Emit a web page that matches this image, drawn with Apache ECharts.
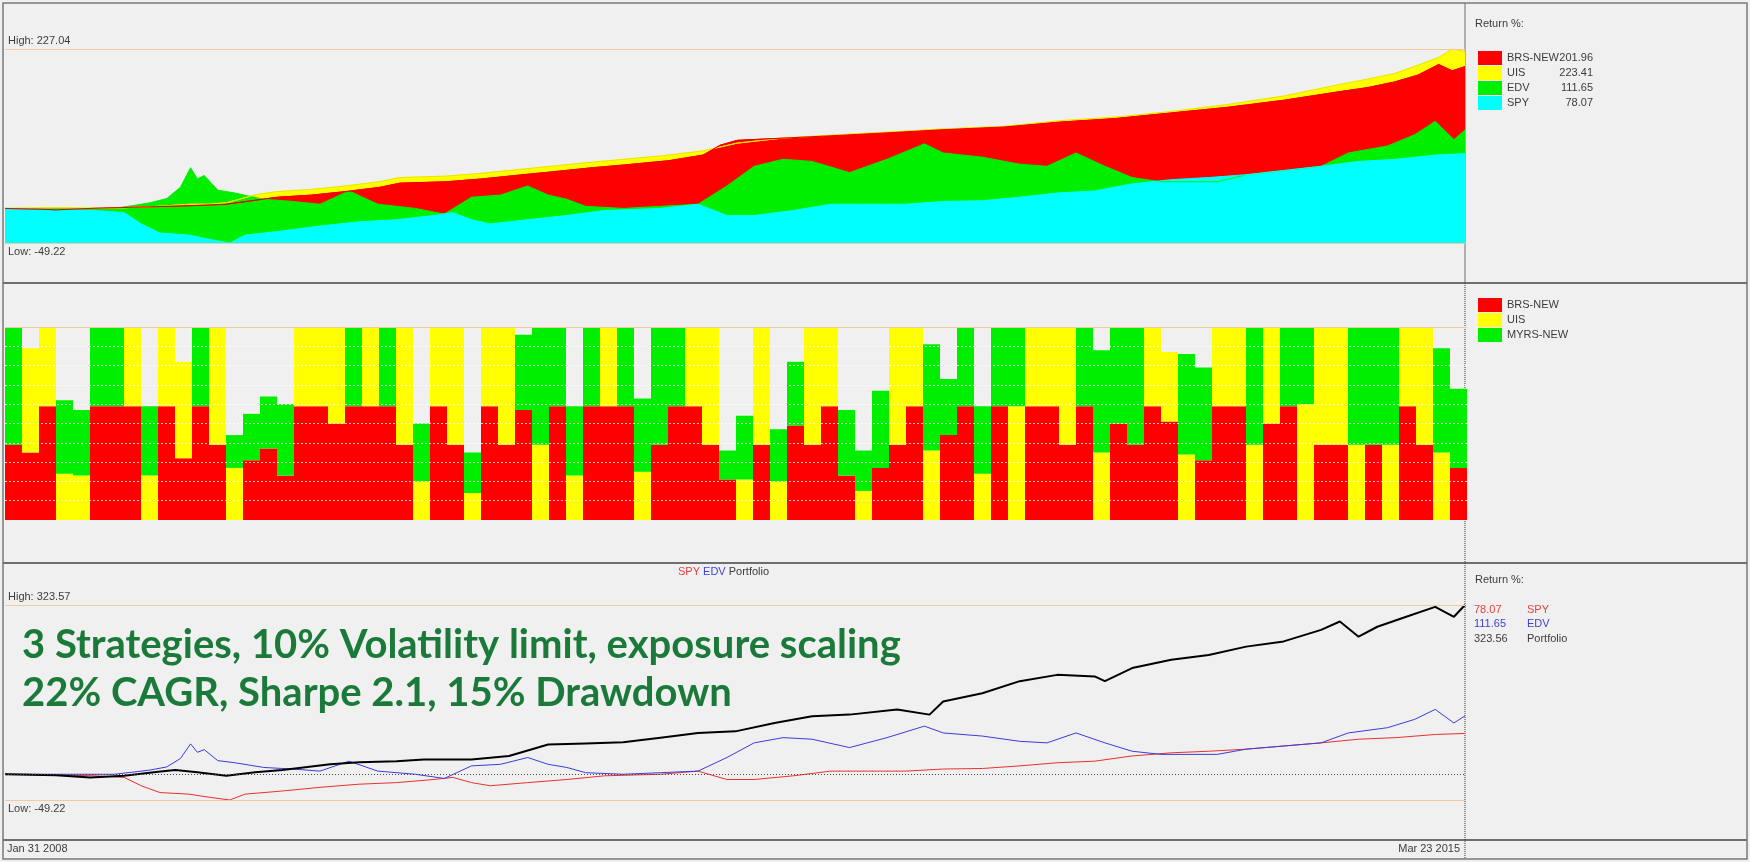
<!DOCTYPE html>
<html>
<head>
<meta charset="utf-8">
<script src="https://cdn.jsdelivr.net/npm/echarts@6/dist/echarts.min.js"></script>
<style>
html, body { margin: 0; padding: 0; background: #f0f0f0; }
#chart { width: 1750px; height: 862px; }
</style>
</head>
<body>
<div id="chart"></div>
<script>
// cumulative return %, [months since Jan 31 2008, value]
var spy = [[0,0],[2,-1],[4,-2],[5.3,-3],[7,-6],[8,-22],[9.1,-35],[10.8,-38],[12,-44],[13.2,-49.2],[14.1,-38],[16.3,-32],[18.5,-25],[20.8,-19],[23,-16],[25.2,-10],[26.3,-6],[27.4,-16],[28.5,-22],[30.7,-16],[33,-10],[35.2,-3],[38.5,0],[40.7,6],[42.4,-10],[44,-10],[46.3,-3],[48.5,6],[50.7,6],[52.9,6],[55.1,10],[57.4,11],[59.6,16],[61.8,22],[64,25],[66.2,35],[68.5,41],[70.7,44],[72.9,48],[75.1,54],[77.3,60],[79.5,67],[81.7,70],[84,76],[85.75,78.07]];
var edv = [[0,0],[3,0],[6.4,0],[7.5,4],[8.5,8],[9.5,14],[10.3,30],[10.9,58],[11.3,42],[11.7,47],[12.5,26],[13.5,22],[15.2,13],[16.9,10],[18.5,6],[20.2,25],[21.9,6],[24.1,0],[25.8,-8],[27.4,16],[29.1,19],[30.7,32],[31.9,19],[33,13],[34.1,3],[36.3,0],[38.5,3],[40.7,6],[42.4,32],[44,60],[45.7,70],[47.4,67],[49.6,51],[51.8,70],[54,92],[55.1,79],[57.4,73],[59.6,63],[61.2,60],[62.9,79],[64.6,60],[66.2,44],[67.9,38],[69.6,38],[71.2,38],[72.9,48],[75.1,54],[77.3,60],[78.9,79],[81.2,89],[82.8,105],[84,124],[85.1,98],[85.75,111.65]];
var uis = [[0,0],[3,1],[6,0],[9,3],[10.9,6],[12,6],[13,8],[14.8,20],[16,24],[18,27],[20,32],[22,38],[23.2,44],[25.9,46],[28,50],[30,55],[32.5,61],[34.5,66],[36.4,70],[39,76],[41,82],[43,93],[45.6,100],[49,105],[52.1,109],[55,113],[58.7,117],[62,125],[65.2,130],[68.5,138],[71.8,148],[75.1,160],[78.3,176],[80,184],[81.6,192],[83,204],[84.2,215],[85,227],[85.75,223.41]];
var brs = [[0,0],[2,-1],[3,-2],[5,0],[8,2],[11,4],[13,6],[14.8,12],[16,16],[18,19],[20,24],[22,30],[23.2,36],[25.9,38],[28,42],[30,47],[32.5,53],[34.5,58],[36.4,62],[39,68],[41,76],[42,90],[43,97],[45.6,100],[49,104],[52.1,108],[55,112],[58.7,116],[62,123],[65.2,128],[68.5,136],[71.8,144],[75.1,154],[78.3,166],[80,172],[81.6,180],[83,190],[84.2,205],[85,196],[85.75,201.96]];
var portfolio = [[0,0],[3,-2],[5,-6],[7,-3],[9,5],[10,8],[11.3,4],[13,-3],[14.7,4],[16.3,8],[19.1,19],[20.8,23],[23,25],[24.6,28],[27.4,28],[29.6,35],[31.9,57],[34.1,59],[36.3,61],[38.5,70],[40.7,79],[42.9,82],[45.2,98],[47.4,111],[49.6,114],[52.4,124],[54.3,114],[55.1,139],[57.4,155],[59.6,178],[61.8,190],[64,187],[64.6,178],[66.2,203],[68.5,219],[70.7,228],[72.9,244],[75.1,254],[77.3,276],[78.4,292],[79.5,263],[80.6,282],[82.3,301],[84,320],[85.1,301],[85.75,323.56]];

// monthly allocation %, Jan 2008 .. Feb 2015
var wBrs  = [39,35,59,0,0,59,59,59,0,59,32,59,39,0,31,37,23,59,59,50,59,59,59,39,0,59,39,0,59,39,57,0,59,0,59,59,59,0,39,59,59,39,21,0,39,0,49,39,59,23,0,27,39,59,0,44,59,0,59,0,59,59,39,59,0,50,39,59,51,0,31,59,59,0,50,59,0,39,39,0,39,0,59,39,0,27];
var wUis  = [0,54,41,24,23,0,0,41,23,41,50,0,61,27,0,0,0,41,41,50,0,41,0,61,20,41,61,14,41,61,0,39,0,23,0,41,0,25,0,0,41,61,0,21,61,20,0,61,41,0,15,0,61,41,36,0,0,24,0,59,41,41,61,0,35,0,0,41,36,34,0,41,41,39,50,0,60,61,61,39,0,39,41,61,35,0];
var wMyrs = [61,0,0,38,34,41,41,0,36,0,0,41,0,17,24,27,37,0,0,0,41,0,41,0,30,0,0,21,0,0,39,61,41,36,41,0,41,38,61,41,0,0,15,33,0,27,33,0,0,34,21,40,0,0,55,29,41,35,41,41,0,0,0,41,53,50,61,0,0,52,48,0,0,61,0,41,40,0,0,61,61,61,0,0,54,41];

var months = [];
for (var i = 0; i < wBrs.length; i++) {
    var y = 2008 + Math.floor(i / 12), m = i % 12 + 1;
    months.push(y + '-' + (m < 10 ? '0' + m : m));
}

var lastRet = {'BRS-NEW': '201.96', 'UIS': '223.41', 'EDV': '111.65', 'SPY': '78.07'};
var FONT = 'Liberation Sans';
var txt = '#3c3c3c';

var myChart = echarts.init(document.getElementById('chart'));

function areaSeries(name, data, color) {
    return {
        name: name, type: 'line', xAxisIndex: 0, yAxisIndex: 0,
        data: data, symbol: 'none', silent: true,
        lineStyle: {width: 1, color: color},
        itemStyle: {color: color},
        areaStyle: {color: color, opacity: 1, origin: 'start'}
    };
}

function barSeries(name, data, color) {
    return {
        name: name, type: 'bar', xAxisIndex: 1, yAxisIndex: 1, stack: 'w',
        data: data, barCategoryGap: '0%', silent: true,
        itemStyle: {color: color}
    };
}

function hiLo(hi, lo) {
    return {
        symbol: ['none', 'none'], silent: true, animation: false,
        lineStyle: {color: '#f2c9a2', type: 'solid', width: 1},
        label: {color: txt, fontSize: 11, fontFamily: FONT, distance: [3, 3]},
        data: [
            {yAxis: hi, label: {position: 'insideStartTop', formatter: 'High: ' + hi}},
            {yAxis: lo, label: {position: 'insideStartBottom', formatter: 'Low: ' + lo}}
        ]
    };
}

var spySer = areaSeries('SPY', spy, '#00ffff');
spySer.markLine = hiLo(227.04, -49.22);

var gridLines = [];
for (var g = 10; g < 100; g += 10) gridLines.push({yAxis: g});
gridLines.push({yAxis: 100, lineStyle: {color: '#f2c9a2', type: 'solid'}});

var greenBars = barSeries('MYRS-NEW', wMyrs, '#00ee00');
greenBars.markLine = {
    symbol: ['none', 'none'], silent: true, animation: false, label: {show: false},
    lineStyle: {color: 'rgba(255,255,255,0.75)', type: [2, 2], width: 1},
    data: gridLines
};

var portSer = {
    name: 'Portfolio', type: 'line', xAxisIndex: 2, yAxisIndex: 2, data: portfolio,
    symbol: 'none', silent: true, lineStyle: {width: 2, color: '#000'}, itemStyle: {color: '#000'},
    markLine: hiLo(323.57, -49.22)
};
portSer.markLine.data.push({yAxis: 0, label: {show: false}, lineStyle: {color: '#444', type: [1, 2], width: 1}});

function legendFmt(name) {
    return '{n|' + name + '}{v|' + lastRet[name] + '}';
}

var option = {
    backgroundColor: '#f0f0f0',
    animation: false,
    textStyle: {fontFamily: FONT},
    grid: [
        {left: 5, right: 285, top: 49, height: 194},
        {left: 5, right: 283, top: 327, height: 193},
        {left: 5, right: 285, top: 605, height: 195}
    ],
    xAxis: [
        {type: 'value', gridIndex: 0, min: 0, max: 85.75, show: false, splitLine: {show: false}},
        {type: 'category', gridIndex: 1, data: months, show: false, boundaryGap: true},
        {type: 'value', gridIndex: 2, min: 0, max: 85.75, show: false, splitLine: {show: false}}
    ],
    yAxis: [
        {type: 'value', gridIndex: 0, min: -49.22, max: 227.04, show: false, splitLine: {show: false}},
        {type: 'value', gridIndex: 1, min: 0, max: 100, show: false, splitLine: {show: false}},
        {type: 'value', gridIndex: 2, min: -49.22, max: 323.57, show: false, splitLine: {show: false}}
    ],
    legend: [
        {
            data: ['BRS-NEW', 'UIS', 'EDV', 'SPY'], orient: 'vertical', left: 1473, top: 46,
            icon: 'rect', itemWidth: 24, itemHeight: 14, itemGap: 1, selectedMode: false,
            formatter: legendFmt,
            textStyle: {color: txt, fontSize: 11, rich: {
                n: {width: 36, fontSize: 11, color: txt, fontFamily: FONT},
                v: {width: 50, align: 'right', fontSize: 11, color: txt, fontFamily: FONT}
            }}
        },
        {
            data: ['BRS-NEW', 'UIS', 'MYRS-NEW'], orient: 'vertical', left: 1473, top: 293,
            icon: 'rect', itemWidth: 24, itemHeight: 14, itemGap: 1, selectedMode: false,
            textStyle: {color: txt, fontSize: 11}
        }
    ],
    graphic: [
        // panel frames
        {type: 'rect', shape: {x: 3, y: 3, width: 1744, height: 856}, style: {fill: 'none', stroke: '#7a7a7a', lineWidth: 1.5}, silent: true},
        {type: 'line', shape: {x1: 3, y1: 283, x2: 1747, y2: 283}, style: {stroke: '#6e6e6e', lineWidth: 2}, silent: true},
        {type: 'line', shape: {x1: 3, y1: 563, x2: 1747, y2: 563}, style: {stroke: '#6e6e6e', lineWidth: 2}, silent: true},
        {type: 'line', shape: {x1: 3, y1: 840, x2: 1747, y2: 840}, style: {stroke: '#6e6e6e', lineWidth: 2}, silent: true},
        {type: 'line', shape: {x1: 1465, y1: 3, x2: 1465, y2: 283}, style: {stroke: '#6e6e6e', lineWidth: 1}, silent: true},
        {type: 'line', shape: {x1: 1465, y1: 283, x2: 1465, y2: 859}, style: {stroke: '#333', lineWidth: 1, lineDash: [1, 1]}, silent: true},
        // legend headings
        {type: 'text', left: 1475, top: 18, style: {text: 'Return %:', fill: txt, font: '11px ' + FONT}, silent: true},
        {type: 'text', left: 1475, top: 574, style: {text: 'Return %:', fill: txt, font: '11px ' + FONT}, silent: true},
        {type: 'text', left: 1474, top: 604, style: {text: '78.07', fill: '#e84040', font: '11px ' + FONT}, silent: true},
        {type: 'text', left: 1527, top: 604, style: {text: 'SPY', fill: '#e84040', font: '11px ' + FONT}, silent: true},
        {type: 'text', left: 1474, top: 618, style: {text: '111.65', fill: '#4040d8', font: '11px ' + FONT}, silent: true},
        {type: 'text', left: 1527, top: 618, style: {text: 'EDV', fill: '#4040d8', font: '11px ' + FONT}, silent: true},
        {type: 'text', left: 1474, top: 633, style: {text: '323.56', fill: txt, font: '11px ' + FONT}, silent: true},
        {type: 'text', left: 1527, top: 633, style: {text: 'Portfolio', fill: txt, font: '11px ' + FONT}, silent: true},
        // series caption of the bottom panel
        {type: 'text', left: 678, top: 566, silent: true, style: {
            text: '{r|SPY} {b|EDV} {k|Portfolio}', font: '11px ' + FONT,
            rich: {r: {fill: '#e84040', font: '11px ' + FONT}, b: {fill: '#4040d8', font: '11px ' + FONT}, k: {fill: txt, font: '11px ' + FONT}}
        }},
        // annotation
        {type: 'text', left: 22, top: 625, z: 100, silent: true, style: {
            text: '3 Strategies, 10% Volatility limit, exposure scaling', fill: '#1b7a3a',
            font: 'bold 40px Lato'
        }},
        {type: 'text', left: 22, top: 673, z: 100, silent: true, style: {
            text: '22% CAGR, Sharpe 2.1, 15% Drawdown', fill: '#1b7a3a',
            font: 'bold 40px Lato'
        }},
        // date strip
        {type: 'text', left: 7, top: 843, style: {text: 'Jan 31 2008', fill: txt, font: '11px ' + FONT}, silent: true},
        {type: 'text', right: 290, top: 843, style: {text: 'Mar 23 2015', fill: txt, font: '11px ' + FONT}, silent: true}
    ],
    series: [
        areaSeries('UIS', uis, '#ffff00'),
        areaSeries('BRS-NEW', brs, '#ff0000'),
        areaSeries('EDV', edv, '#00ee00'),
        spySer,
        {name: 'UIS line', type: 'line', xAxisIndex: 0, yAxisIndex: 0, data: uis, symbol: 'none', silent: true, z: 3, lineStyle: {width: 1, color: '#e6e600'}},
        {name: 'BRS line', type: 'line', xAxisIndex: 0, yAxisIndex: 0, data: brs, symbol: 'none', silent: true, z: 3, lineStyle: {width: 1, color: '#ee0000'}},

        barSeries('BRS-NEW', wBrs, '#ff0000'),
        barSeries('UIS', wUis, '#ffff00'),
        greenBars,

        {name: 'SPY', type: 'line', xAxisIndex: 2, yAxisIndex: 2, data: spy, symbol: 'none', silent: true, lineStyle: {width: 1, color: '#e83030'}, itemStyle: {color: '#e83030'}},
        {name: 'EDV', type: 'line', xAxisIndex: 2, yAxisIndex: 2, data: edv, symbol: 'none', silent: true, lineStyle: {width: 1, color: '#3c3cd8'}, itemStyle: {color: '#3c3cd8'}},
        portSer
    ]
};
myChart.setOption(option);
</script>
</body>
</html>
